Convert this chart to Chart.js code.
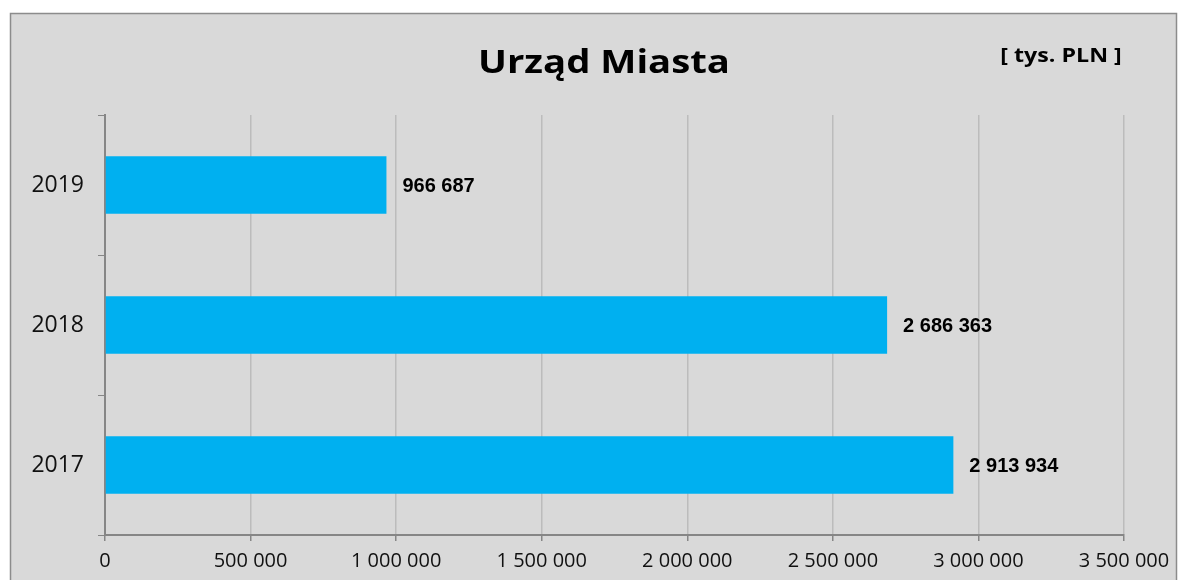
<!DOCTYPE html>
<html>
<head>
<meta charset="utf-8">
<script src="https://cdn.jsdelivr.net/npm/chart.js@4/dist/chart.umd.min.js"></script>
<style>
  html, body { margin: 0; padding: 0; background: #fff; }
  #wrap { width: 1187px; height: 580px; }
</style>
</head>
<body>
<div id="wrap"><canvas id="myChart" width="1187" height="580"></canvas></div>
<script>
const years = ['2019', '2018', '2017']
const amounts = [966687, 2686363, 2913934]
const axisTicks = [0, 500000, 1000000, 1500000, 2000000, 2500000, 3000000, 3500000]

const chartTitle = 'Urząd Miasta'
const unitLabel = '[ tys. PLN ]'

function formatPL(v) {
    return String(Math.round(v)).replace(/\B(?=(\d{3})+(?!\d))/g, ' ')
}

// text a bit wider than the font, the original picture is stretched
function wideText(c, text, x, y, sx) {
    c.save()
    c.translate(x, y)
    c.scale(sx, 1)
    c.fillText(text, 0, 0)
    c.restore()
}

// grey panel with frame, title and unit text
const panel = {
    id: 'panel',
    beforeDraw(chart) {
        const c = chart.ctx
        c.save()
        c.fillStyle = '#ffffff'
        c.fillRect(0, 0, chart.width, chart.height)
        c.fillStyle = '#d9d9d9'
        c.fillRect(10, 13, 1167, 600)
        c.strokeStyle = '#8c8c8c'
        c.lineWidth = 1.5
        c.strokeRect(10.5, 13.5, 1166, 600)
        c.restore()
    },
    afterDraw(chart) {
        const c = chart.ctx
        c.save()
        c.fillStyle = '#000'
        c.textAlign = 'center'
        c.textBaseline = 'alphabetic'
        c.font = 'bold 33px "Open Sans"'
        wideText(c, chartTitle, 604, 73, 1.16)
        c.font = 'bold 20px "Open Sans"'
        wideText(c, unitLabel, 1061, 62, 1.16)
        c.restore()
    }
}

// value labels at the end of each bar
const barLabels = {
    id: 'barLabels',
    afterDatasetsDraw(chart) {
        const c = chart.ctx
        const meta = chart.getDatasetMeta(0)
        c.save()
        c.fillStyle = '#000'
        c.font = 'bold 20px "Liberation Sans"'
        c.textAlign = 'left'
        c.textBaseline = 'middle'
        meta.data.forEach((bar, i) => {
            c.fillText(formatPL(amounts[i]), bar.x + 16, bar.y + 1)
        })
        c.restore()
    }
}

new Chart(document.getElementById('myChart'), {
    type: 'bar',
    data: {
        labels: years,
        datasets: [{
            data: amounts,
            backgroundColor: '#00b0f0',
            borderWidth: 0,
            categoryPercentage: 1,
            barPercentage: 0.41
        }]
    },
    options: {
        indexAxis: 'y',
        responsive: false,
        animation: false,
        layout: { padding: { top: 115, right: 63, left: 0, bottom: 0 } },
        plugins: {
            legend: { display: false },
            tooltip: { enabled: false }
        },
        scales: {
            x: {
                min: 0,
                max: axisTicks[axisTicks.length - 1],
                afterBuildTicks(scale) {
                    scale.ticks = axisTicks.map(v => ({ value: v }))
                },
                afterFit(scale) { scale.height = 45 },
                border: { color: '#868686', width: 2 },
                grid: {
                    color: '#bcbcbc',
                    lineWidth: 1.5,
                    tickColor: '#868686',
                    tickLength: 6
                },
                ticks: {
                    color: '#111',
                    padding: 8,
                    maxRotation: 0,
                    font: { family: '"Open Sans"', size: 20 },
                    callback: v => formatPL(v)
                }
            },
            y: {
                afterFit(scale) { scale.width = 105 },
                border: { color: '#868686', width: 2 },
                grid: {
                    offset: true,
                    drawOnChartArea: false,
                    color: '#868686',
                    tickLength: 7
                },
                ticks: {
                    color: '#111',
                    padding: 14,
                    font: { family: '"Open Sans"', size: 23 }
                }
            }
        }
    },
    plugins: [panel, barLabels]
})
</script>
</body>
</html>
